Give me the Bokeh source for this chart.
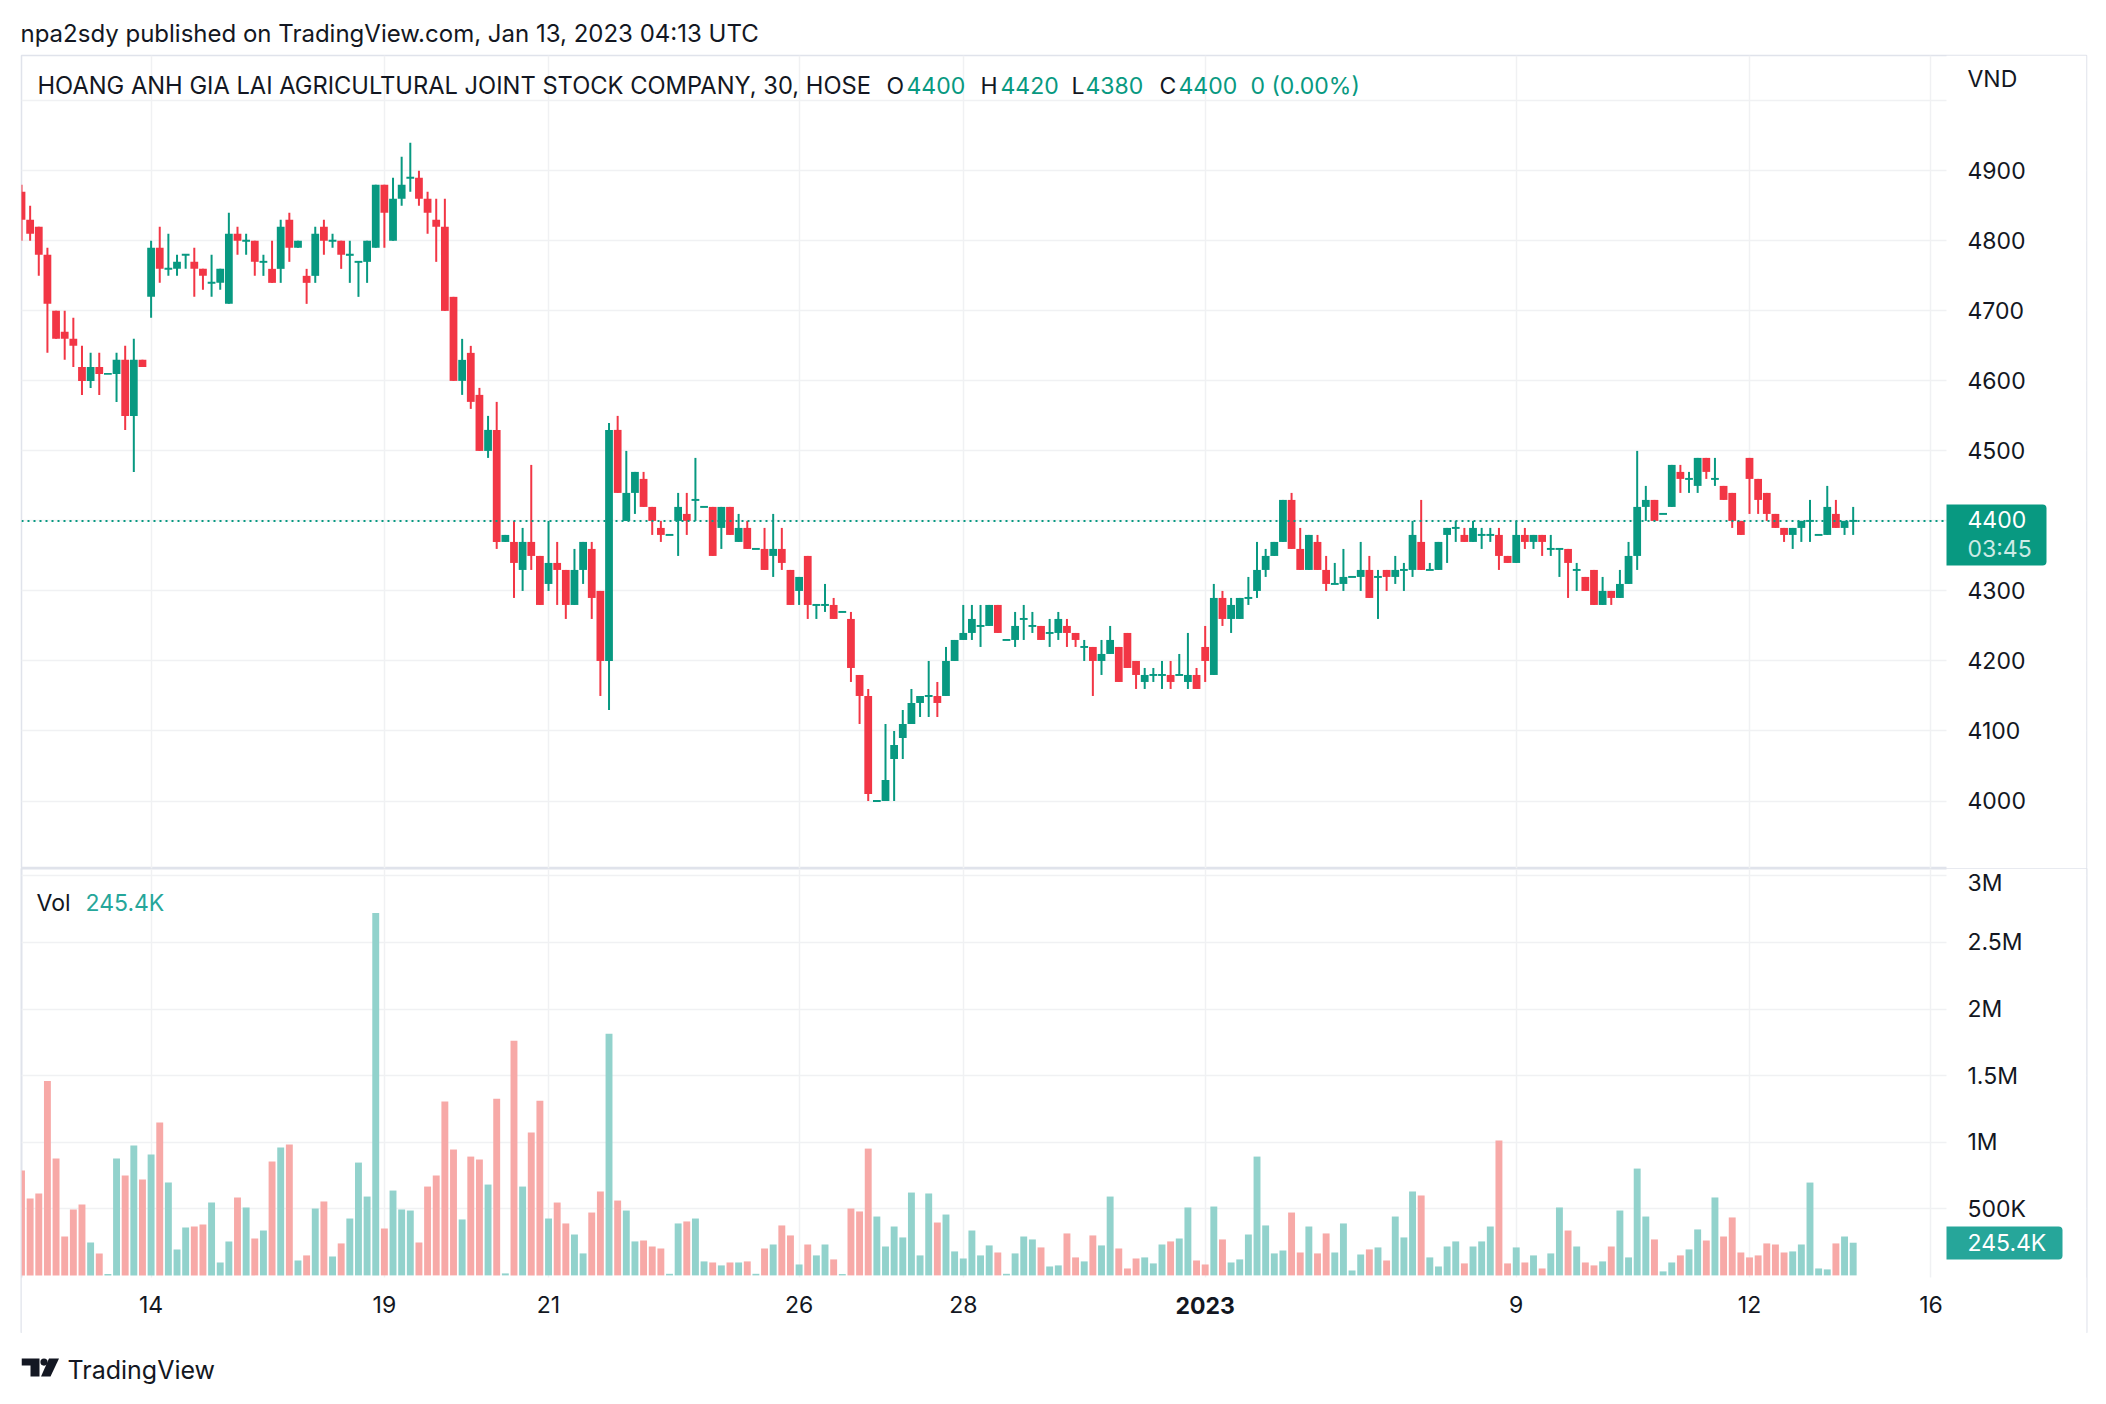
from bokeh.plotting import figure
from bokeh.layouts import column
from bokeh.models import Range1d, FixedTicker, Label, ColumnDataSource, Title, BoxAnnotation
from bokeh.embed import file_html
from bokeh.resources import INLINE

# ---------------- data (30-minute bars, HOSE) ----------------
open_ = [4870, 4830, 4820, 4780, 4700, 4670, 4660, 4620, 4600, 4620,
         4610, 4610, 4630, 4550, 4630, 4720, 4790, 4760, 4760, 4780,
         4770, 4760, 4740, 4740, 4710, 4810, 4800, 4800, 4770, 4760,
         4760, 4830, 4790, 4750, 4750, 4820, 4800, 4800, 4780, 4770,
         4770, 4790, 4880, 4800, 4860, 4890, 4890, 4860, 4830, 4820,
         4720, 4600, 4640, 4580, 4500, 4530, 4370, 4370, 4330, 4370,
         4350, 4310, 4340, 4330, 4280, 4330, 4360, 4300, 4200, 4530,
         4400, 4440, 4460, 4420, 4390, 4380, 4400, 4410, 4430, 4420,
         4420, 4390, 4420, 4370, 4390, 4360, 4360, 4350, 4360, 4330,
         4300, 4350, 4280, 4280, 4280, 4270, 4260, 4180, 4150, 4000,
         4000, 4060, 4090, 4110, 4140, 4150, 4150, 4150, 4200, 4230,
         4240, 4250, 4250, 4280, 4230, 4230, 4260, 4250, 4250, 4240,
         4240, 4250, 4240, 4220, 4220, 4200, 4210, 4220, 4240, 4200,
         4170, 4180, 4180, 4180, 4180, 4170, 4180, 4220, 4180, 4290,
         4260, 4260, 4290, 4300, 4330, 4350, 4370, 4430, 4360, 4330,
         4370, 4330, 4310, 4310, 4320, 4320, 4330, 4320, 4330, 4320,
         4330, 4330, 4370, 4330, 4330, 4380, 4390, 4380, 4370, 4380,
         4380, 4380, 4350, 4340, 4380, 4370, 4380, 4360, 4360, 4360,
         4330, 4320, 4330, 4280, 4300, 4290, 4310, 4350, 4420, 4430,
         4410, 4420, 4470, 4460, 4450, 4490, 4460, 4450, 4440, 4400,
         4490, 4460, 4440, 4410, 4390, 4380, 4390, 4400, 4380, 4380,
         4410, 4390, 4400]
high = [4880, 4850, 4820, 4790, 4700, 4700, 4690, 4650, 4640, 4640,
        4610, 4640, 4650, 4660, 4630, 4800, 4820, 4810, 4780, 4780,
        4790, 4760, 4780, 4760, 4840, 4820, 4810, 4800, 4780, 4800,
        4830, 4840, 4800, 4760, 4820, 4830, 4810, 4800, 4800, 4770,
        4800, 4880, 4880, 4890, 4920, 4940, 4900, 4870, 4860, 4860,
        4720, 4660, 4650, 4590, 4550, 4570, 4380, 4400, 4390, 4480,
        4350, 4400, 4370, 4330, 4360, 4370, 4370, 4300, 4540, 4550,
        4500, 4470, 4470, 4420, 4400, 4380, 4440, 4440, 4490, 4420,
        4420, 4420, 4420, 4410, 4400, 4360, 4390, 4410, 4390, 4330,
        4320, 4350, 4280, 4310, 4290, 4270, 4270, 4180, 4160, 4000,
        4110, 4100, 4130, 4160, 4150, 4200, 4170, 4220, 4230, 4280,
        4280, 4280, 4280, 4280, 4230, 4270, 4280, 4270, 4250, 4260,
        4270, 4260, 4240, 4230, 4220, 4230, 4250, 4220, 4240, 4200,
        4190, 4190, 4200, 4200, 4210, 4240, 4190, 4250, 4310, 4300,
        4290, 4290, 4320, 4370, 4360, 4370, 4430, 4440, 4390, 4380,
        4380, 4350, 4340, 4360, 4320, 4370, 4350, 4330, 4330, 4350,
        4340, 4400, 4430, 4340, 4370, 4390, 4400, 4390, 4400, 4390,
        4390, 4390, 4350, 4400, 4390, 4380, 4380, 4380, 4360, 4360,
        4340, 4320, 4330, 4320, 4300, 4330, 4370, 4500, 4450, 4430,
        4410, 4480, 4480, 4470, 4490, 4490, 4490, 4450, 4440, 4400,
        4490, 4460, 4440, 4410, 4390, 4390, 4400, 4430, 4380, 4450,
        4430, 4400, 4420]
low = [4800, 4800, 4750, 4640, 4660, 4630, 4620, 4580, 4590, 4580,
       4610, 4570, 4530, 4470, 4620, 4690, 4740, 4750, 4750, 4760,
       4720, 4730, 4720, 4730, 4710, 4780, 4780, 4750, 4750, 4740,
       4740, 4770, 4790, 4710, 4740, 4780, 4790, 4760, 4740, 4720,
       4740, 4790, 4790, 4800, 4850, 4870, 4850, 4810, 4770, 4700,
       4600, 4580, 4560, 4500, 4490, 4360, 4370, 4290, 4300, 4330,
       4280, 4300, 4280, 4260, 4280, 4310, 4260, 4150, 4130, 4440,
       4400, 4410, 4420, 4380, 4370, 4380, 4350, 4380, 4400, 4420,
       4350, 4360, 4380, 4370, 4360, 4360, 4330, 4320, 4330, 4280,
       4280, 4260, 4260, 4270, 4260, 4270, 4170, 4110, 4000, 4000,
       4000, 4000, 4060, 4110, 4120, 4120, 4120, 4150, 4200, 4230,
       4230, 4220, 4250, 4240, 4230, 4220, 4230, 4240, 4230, 4220,
       4230, 4220, 4220, 4200, 4150, 4180, 4210, 4170, 4190, 4160,
       4160, 4170, 4160, 4160, 4180, 4160, 4160, 4170, 4180, 4250,
       4240, 4260, 4280, 4290, 4320, 4350, 4370, 4360, 4330, 4330,
       4330, 4300, 4310, 4300, 4320, 4300, 4290, 4260, 4300, 4310,
       4300, 4320, 4330, 4330, 4330, 4340, 4370, 4370, 4370, 4360,
       4370, 4330, 4340, 4340, 4360, 4360, 4350, 4350, 4320, 4290,
       4300, 4300, 4280, 4280, 4280, 4290, 4310, 4330, 4400, 4400,
       4410, 4420, 4440, 4440, 4440, 4460, 4450, 4430, 4390, 4380,
       4410, 4410, 4400, 4390, 4370, 4360, 4370, 4370, 4380, 4380,
       4390, 4380, 4380]
close = [4830, 4810, 4780, 4710, 4660, 4660, 4650, 4600, 4620, 4610,
         4610, 4630, 4550, 4630, 4620, 4790, 4760, 4760, 4770, 4780,
         4760, 4750, 4740, 4760, 4810, 4800, 4800, 4770, 4770, 4740,
         4820, 4790, 4800, 4740, 4810, 4800, 4800, 4780, 4780, 4770,
         4800, 4880, 4840, 4860, 4880, 4890, 4860, 4840, 4820, 4700,
         4600, 4630, 4570, 4500, 4530, 4370, 4380, 4340, 4370, 4350,
         4280, 4340, 4330, 4280, 4330, 4370, 4290, 4200, 4530, 4440,
         4440, 4470, 4420, 4400, 4380, 4380, 4420, 4400, 4430, 4420,
         4350, 4420, 4380, 4390, 4360, 4360, 4330, 4360, 4340, 4280,
         4320, 4280, 4280, 4280, 4260, 4270, 4190, 4150, 4010, 4000,
         4030, 4080, 4110, 4140, 4150, 4150, 4140, 4200, 4230, 4240,
         4260, 4250, 4280, 4240, 4230, 4250, 4260, 4250, 4230, 4240,
         4260, 4240, 4230, 4220, 4200, 4210, 4230, 4170, 4190, 4180,
         4180, 4180, 4180, 4170, 4180, 4180, 4160, 4200, 4290, 4260,
         4280, 4290, 4290, 4330, 4350, 4370, 4430, 4360, 4330, 4380,
         4330, 4310, 4310, 4320, 4320, 4330, 4290, 4320, 4320, 4330,
         4330, 4380, 4330, 4330, 4370, 4390, 4390, 4370, 4390, 4380,
         4380, 4350, 4340, 4380, 4370, 4380, 4370, 4360, 4360, 4340,
         4330, 4300, 4280, 4300, 4290, 4310, 4350, 4420, 4430, 4400,
         4410, 4480, 4460, 4460, 4490, 4470, 4460, 4430, 4400, 4380,
         4460, 4430, 4410, 4390, 4380, 4390, 4400, 4400, 4380, 4420,
         4390, 4400, 4400]
volume = [787e3, 577e3, 615e3, 1460e3, 877e3, 292e3, 495e3, 532e3, 247e3, 165e3,
          10e3, 877e3, 750e3, 975e3, 720e3, 907e3, 1147e3, 697e3, 195e3, 360e3,
          367e3, 382e3, 547e3, 97e3, 255e3, 585e3, 510e3, 277e3, 337e3, 855e3,
          960e3, 982e3, 112e3, 150e3, 502e3, 555e3, 142e3, 240e3, 427e3, 847e3,
          592e3, 2720e3, 352e3, 637e3, 495e3, 487e3, 247e3, 667e3, 750e3, 1305e3,
          945e3, 420e3, 892e3, 870e3, 682e3, 1327e3, 15e3, 1762e3, 667e3, 1072e3,
          1312e3, 427e3, 547e3, 390e3, 307e3, 165e3, 472e3, 630e3, 1815e3, 562e3,
          487e3, 255e3, 262e3, 217e3, 202e3, 12e3, 390e3, 405e3, 427e3, 105e3,
          97e3, 75e3, 97e3, 97e3, 105e3, 12e3, 202e3, 232e3, 375e3, 300e3,
          82e3, 232e3, 150e3, 232e3, 120e3, 10e3, 502e3, 480e3, 952e3, 442e3,
          217e3, 367e3, 285e3, 622e3, 150e3, 615e3, 397e3, 457e3, 180e3, 127e3,
          337e3, 150e3, 225e3, 172e3, 12e3, 165e3, 292e3, 270e3, 210e3, 67e3,
          75e3, 315e3, 135e3, 105e3, 300e3, 225e3, 592e3, 202e3, 52e3, 127e3,
          135e3, 90e3, 232e3, 255e3, 277e3, 510e3, 112e3, 82e3, 517e3, 270e3,
          97e3, 120e3, 307e3, 892e3, 375e3, 165e3, 187e3, 472e3, 172e3, 367e3,
          165e3, 315e3, 172e3, 390e3, 37e3, 157e3, 195e3, 210e3, 112e3, 442e3,
          285e3, 630e3, 600e3, 135e3, 67e3, 217e3, 255e3, 90e3, 217e3, 255e3,
          367e3, 1012e3, 90e3, 210e3, 97e3, 150e3, 52e3, 165e3, 510e3, 337e3,
          217e3, 97e3, 75e3, 105e3, 217e3, 487e3, 135e3, 802e3, 442e3, 270e3,
          30e3, 97e3, 150e3, 195e3, 345e3, 262e3, 585e3, 292e3, 435e3, 172e3,
          135e3, 150e3, 240e3, 232e3, 172e3, 180e3, 232e3, 697e3, 52e3, 45e3,
          240e3, 292e3, 245.4e3]

date_ticks = [15, 42, 61, 90, 109, 137, 173, 200, 221]
date_labels = ["14", "19", "21", "26", "28", "2023", "9", "12", "16"]
price_ticks = [4000, 4100, 4200, 4300, 4500, 4600, 4700, 4800, 4900]
price_grid = [4000, 4100, 4200, 4300, 4400, 4500, 4600, 4700, 4800, 4900, 5000]
vol_ticks = [500000, 1000000, 1500000, 2000000, 2500000, 3000000]
vol_tick_labels = ["500K", "1M", "1.5M", "2M", "2.5M", "3M"]
last_price = 4400
countdown = "03:45"
currency = "VND"

# ---------------- layout helpers (pixel geometry) ----------------
W, H = 2106, 1404
FL, PR, FR = 21, 1946, 2086       # frame left, pane right edge, outer frame right
PT, SEP, VB, OB = 55, 868, 1277, 1333  # price top, separator, volume pane bottom, outer bottom
BAR_PX, X0 = 8.64, 21.0
P_PX, P_REF = 0.7002, 800.5
V_PX, V_ZERO = 66.6 / 500000, 1274.9


def xi(px):
    return (px - X0) / BAR_PX


def yp(py):
    return 4000 + (P_REF - py) / P_PX


def yv(py):
    return (V_ZERO - py) / V_PX


FONT = "Inter"
DARK = "#131722"
UP, DOWN = "#089981", "#F23645"
VUP, VDOWN = "#92D2CC", "#F7A9A7"
VOLC = "#26a69a"
GRID = "#f0f1f3"
BORDER = "#e0e3eb"

n = len(close)
idx = list(range(n))
up = [c >= o for o, c in zip(open_, close)]
DOJI = 1.4
src = ColumnDataSource(dict(
    x=idx, high=high, low=low,
    top=[max(o, c) + (DOJI if o == c else 0) for o, c in zip(open_, close)],
    bottom=[min(o, c) - (DOJI if o == c else 0) for o, c in zip(open_, close)],
    color=[UP if u else DOWN for u in up],
    vcolor=[VUP if u else VDOWN for u in up],
    vol=volume,
))


def style_axis(a, standoff):
    a.axis_line_color = None
    a.major_tick_line_color = None
    a.minor_tick_line_color = None
    a.major_tick_out = 0
    a.major_tick_in = 0
    a.major_label_standoff = standoff
    a.major_label_text_font = FONT
    a.major_label_text_font_size = "23px"
    a.major_label_text_color = DARK


def lab(fig, text, x, y, color=DARK, size="23px", align="left", style="normal", **kw):
    fig.add_layout(Label(x=x, y=y, text=text, text_color=color, text_font=FONT,
                         text_font_size=size, text_align=align, text_baseline="middle",
                         text_font_style=style, **kw))


def cover(fig, **kw):
    fig.add_layout(BoxAnnotation(fill_color="white", fill_alpha=1.0, line_color=None,
                                 level="underlay", **kw))


# ---------------- price panel ----------------
p = figure(width=W, height=SEP, title=None,
           x_range=Range1d(xi(FL), xi(FR)), y_range=Range1d(yp(SEP), yp(PT)),
           x_axis_location=None, y_axis_location="right",
           output_backend="svg", toolbar_location=None,
           min_border_left=FL, min_border_right=W - FR,
           min_border_top=PT, min_border_bottom=0)
p.outline_line_color = BORDER
p.outline_line_width = 1.5
p.background_fill_color = "white"
p.border_fill_color = "white"
p.xgrid.ticker = FixedTicker(ticks=date_ticks)
p.ygrid.ticker = FixedTicker(ticks=price_grid)
for g in (p.xgrid, p.ygrid):
    g.grid_line_color = GRID
    g.grid_line_width = 1.5
cover(p, left=xi(PR))
ax = p.yaxis[0]
vnd_pos = yp(78)
ax.ticker = FixedTicker(ticks=price_ticks + [vnd_pos])
ax.major_label_overrides = {vnd_pos: currency}
ax.fixed_location = xi(PR)
style_axis(ax, 21)

p.segment(x0="x", y0="low", x1="x", y1="high", line_color="color", line_width=2, source=src)
p.vbar(x="x", top="top", bottom="bottom", width=0.9, fill_color="color", line_color=None, source=src)
# last price line
p.segment(x0=[xi(FL)], y0=[close[-1]], x1=[xi(PR)], y1=[close[-1]],
          line_color=UP, line_width=2, line_dash="2 4")

p.add_layout(Title(text="npa2sdy published on TradingView.com, Jan 13, 2023 04:13 UTC",
                   align="left", offset=-1, standoff=16, text_font=FONT, text_font_size="24px",
                   text_font_style="normal", text_color=DARK), "above")

o_l, h_l, l_l, c_l = open_[-1], high[-1], low[-1], close[-1]
chg = c_l - close[-2]
title_parts = [
    ("HOANG ANH GIA LAI AGRICULTURAL JOINT STOCK COMPANY, 30, HOSE", 37, DARK),
    ("O", 886, DARK), (f"{o_l}", 906, UP),
    ("H", 980, DARK), (f"{h_l}", 1000, UP),
    ("L", 1071, DARK), (f"{l_l}", 1085, UP),
    ("C", 1159, DARK), (f"{c_l}", 1178, UP),
    (f"{chg} ({chg / close[-2] * 100:.2f}%)", 1250, UP),
]
for t, px, col in title_parts:
    lab(p, t, xi(px), yp(85), color=col, size="23.7px" if px == 37 else "23px")
# last price marker box
p.add_layout(BoxAnnotation(left=xi(PR), right=xi(2046), top=yp(504), bottom=yp(565),
                           fill_color=UP, fill_alpha=1.0, line_color=None, border_radius=(0, 4, 4, 0)))
lab(p, f"{last_price}", xi(1967), yp(519), color="white")
lab(p, countdown, xi(1967), yp(548), color="#cdebe6")

# ---------------- volume panel ----------------
v = figure(width=W, height=OB - SEP, title=None,
           x_range=p.x_range, y_range=Range1d(yv(OB), yv(SEP)),
           y_axis_location="right",
           output_backend="svg", toolbar_location=None,
           min_border_left=FL, min_border_right=W - FR,
           min_border_top=0, min_border_bottom=0)
v.outline_line_color = BORDER
v.outline_line_width = 2
v.background_fill_color = "white"
v.border_fill_color = "white"
v.xgrid.ticker = FixedTicker(ticks=date_ticks)
v.ygrid.ticker = FixedTicker(ticks=vol_ticks)
for g in (v.xgrid, v.ygrid):
    g.grid_line_color = GRID
    g.grid_line_width = 1.5
cover(v, left=xi(PR))
cover(v, top=yv(VB))
vy = v.yaxis[0]
vy.ticker = FixedTicker(ticks=vol_ticks)
vy.major_label_overrides = {t: s for t, s in zip(vol_ticks, vol_tick_labels)}
vy.fixed_location = xi(PR)
style_axis(vy, 21)
vx = v.xaxis[0]
vx.ticker = FixedTicker(ticks=date_ticks)
vx.major_label_overrides = {t: ("" if s == "2023" else s) for t, s in zip(date_ticks, date_labels)}
vx.fixed_location = yv(VB)
style_axis(vx, 18)

v.vbar(x="x", top="vol", bottom=0, width=0.8, fill_color="vcolor", line_color=None, source=src)

lab(v, "2023", date_ticks[date_labels.index("2023")], yv(1305), align="center", style="bold")
lab(v, "Vol", xi(36), yv(902))
lab(v, f"{volume[-1] / 1000:.1f}K", xi(85), yv(902), color=VOLC)
v.add_layout(BoxAnnotation(left=xi(PR), right=xi(2062), top=yv(1226), bottom=yv(1259),
                           fill_color=VOLC, fill_alpha=1.0, line_color=None, border_radius=(0, 4, 4, 0)))
lab(v, f"{volume[-1] / 1000:.1f}K", xi(1967), yv(1242), color="white")

# ---------------- footer (brand) ----------------
f = figure(width=W, height=H - OB, title=None,
           x_range=Range1d(FL, FR), y_range=Range1d(H, OB),
           x_axis_location=None, y_axis_location=None,
           output_backend="svg", toolbar_location=None,
           min_border_left=FL, min_border_right=W - FR, min_border_top=0, min_border_bottom=0)
f.outline_line_color = None
f.grid.visible = False
f.background_fill_color = "white"
f.border_fill_color = "white"
f.patches(xs=[[21, 39, 39, 30, 30, 21], [48.5, 58.5, 50, 40.5]],
          ys=[[1358, 1358, 1376, 1376, 1365, 1365], [1358, 1358, 1376, 1376]],
          fill_color=DARK, line_color=None)
f.circle(x=[43.5], y=[1361.6], radius=3.6, fill_color=DARK, line_color=None)
lab(f, "TradingView", 67, 1369, size="25px")

layout = column(p, v, f, spacing=0)
open("out.html", "w").write(file_html(layout, INLINE))
